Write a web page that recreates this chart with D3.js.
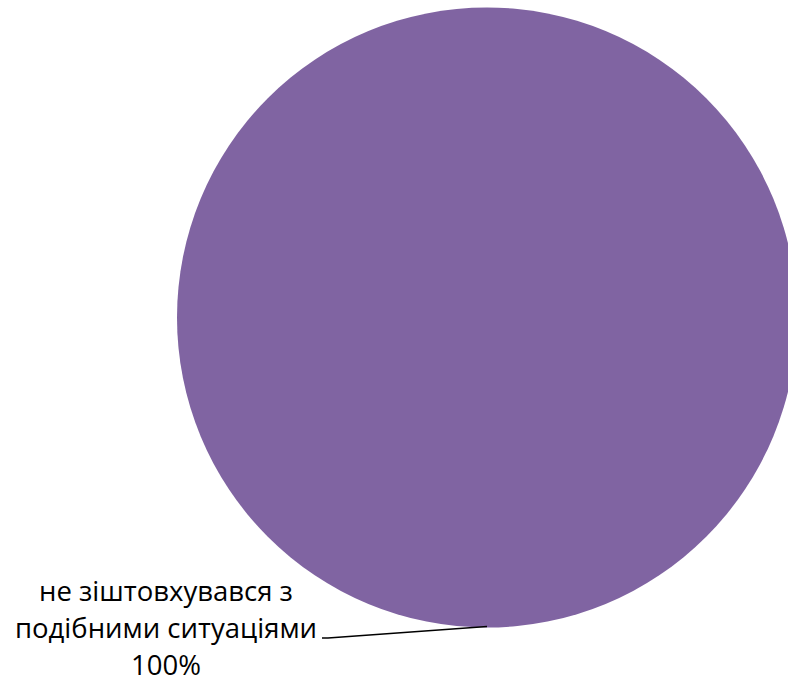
<!DOCTYPE html>
<html lang="uk">
  <head>
    <meta charset="UTF-8" />
    <title>D3 JS</title>
    <script src="https://d3js.org/d3.v7.min.js"></script>
    <style>
      body { margin: 0; background: #fff; }
    </style>
  </head>
  <body>
    <div id="my_dataviz"></div>
    <script>
      const categories = ['не зіштовхувався з подібними ситуаціями'];
      const labelLines = [['не зіштовхувався з', 'подібними ситуаціями', '100%']];
      const values = [100];
      const colors = ['#8064A2'];

      const W = 788, H = 682;
      const cx = 487, cy = 317.5, radius = 310;

      const svg = d3.select('#my_dataviz')
        .append('svg')
          .attr('width', W)
          .attr('height', H);

      const g = svg.append('g')
        .attr('transform', `translate(${cx}, ${cy})`);

      const pie = d3.pie().sort(null).value(d => d);
      const arc = d3.arc().innerRadius(0).outerRadius(radius);

      const arcs = pie(values);

      g.selectAll('path.slice')
        .data(arcs)
        .enter()
        .append('path')
          .attr('class', 'slice')
          .attr('d', arc)
          .attr('fill', (d, i) => colors[i]);

      // label sits to the lower left, leader runs to the bottom of the pie
      const labelX = 166 - cx, labelY = 601 - cy;
      const lineH = 37;

      arcs.forEach((d, i) => {
        const a = Math.PI; // bottom of the circle
        const ex = radius * Math.sin(a), ey = -radius * Math.cos(a);
        g.append('path')
          .attr('d', `M${ex},${ey - 1}L${labelX + 162},${labelY + 37}L${labelX + 156},${labelY + 37}`)
          .attr('fill', 'none')
          .attr('stroke', '#000')
          .attr('stroke-width', 1.3);

        const t = g.append('text')
          .attr('text-anchor', 'middle')
          .style('font-family', '"Open Sans", sans-serif')
          .style('font-size', '27.5px')
          .attr('fill', '#000');
        labelLines[i].forEach((s, k) => {
          t.append('tspan')
            .attr('x', labelX)
            .attr('y', labelY + k * lineH)
            .text(s);
        });
      });
    </script>
  </body>
</html>
